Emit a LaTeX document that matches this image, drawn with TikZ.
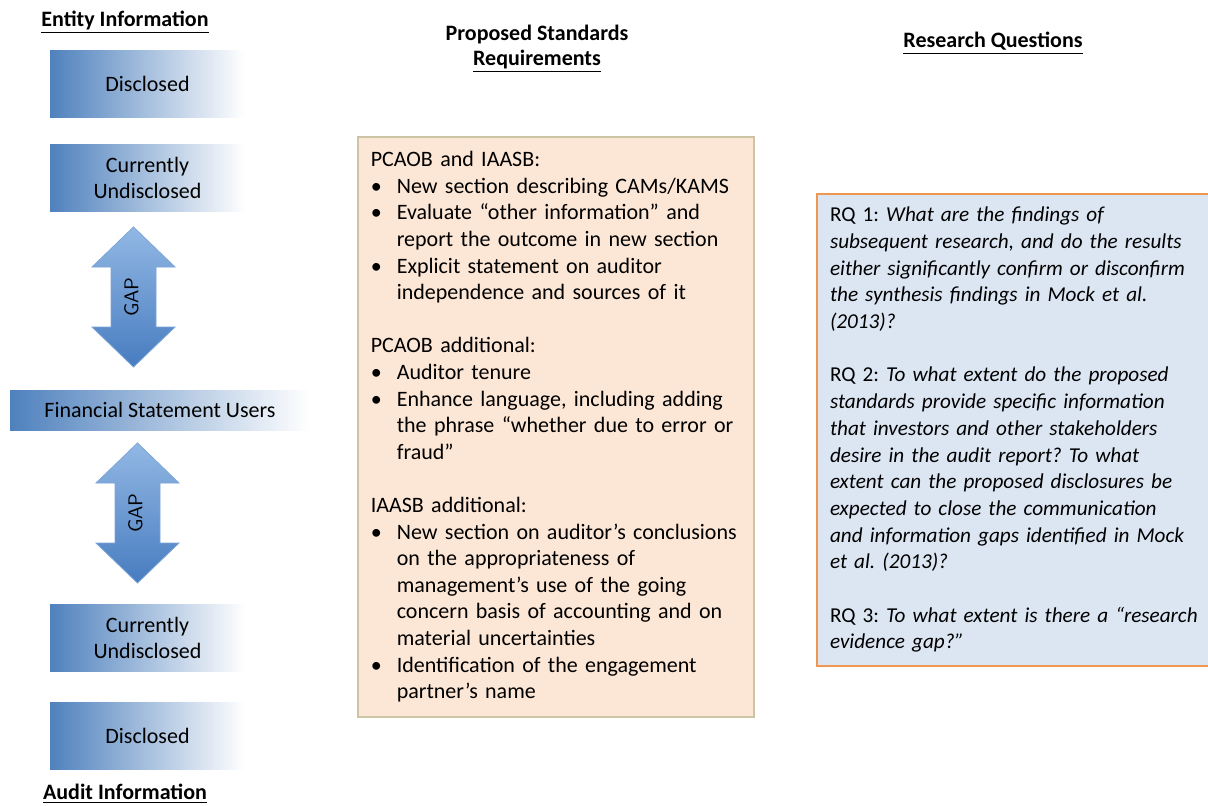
\documentclass[tikz,border=0pt]{standalone}
\usepackage{fontspec}
\setmainfont{Carlito}

\definecolor{barblue}{RGB}{79,129,189}
\definecolor{arrowtop}{RGB}{146,184,228}
\definecolor{arrowbot}{RGB}{72,124,192}
\definecolor{arrowline}{RGB}{125,165,215}
\definecolor{reqfill}{RGB}{252,230,213}
\definecolor{reqline}{RGB}{205,196,165}
\definecolor{rqfill}{RGB}{220,230,242}
\definecolor{rqline}{RGB}{240,150,80}

\newcommand{\reqitem}{\makebox[13pt][l]{\textbullet}}
\newcommand{\reqcont}{\hspace*{13pt}}

\begin{document}
\frenchspacing
\begin{tikzpicture}[x=0.5pt, y=-0.5pt,
    every node/.style={font=\fontsize{11}{13.3}\selectfont},
    heading/.style={font=\fontsize{11}{12.5}\selectfont\bfseries, align=center},
    infobar/.style={left color=barblue, middle color=barblue!40, right color=white,
      minimum width=97.5pt, minimum height=33.5pt, align=center, inner sep=0pt},
    reqbox/.style={draw=reqline, fill=reqfill, line width=0.8pt, anchor=north west,
      text width=185pt, align=left, inner xsep=6.5pt, minimum height=290pt},
    rqbox/.style={draw=rqline, fill=rqfill, line width=1pt, anchor=north west,
      font=\fontsize{10.6}{13.35}\selectfont,
      text width=200pt, align=left, inner xsep=6.5pt, inner ysep=6.5pt}]
  \useasboundingbox (0,0) rectangle (1208,805);

  % left column
  \node[heading] (entity) at (125,22) {\underline{Entity Information}};
  \node[infobar] (discA) at (147.5,83.5) {Disclosed};
  \node[infobar] (undiscA) at (147.5,178) {Currently\\Undisclosed};
  \node[infobar, minimum width=150pt, minimum height=20pt] (users) at (160,410)
    {Financial Statement Users};
  \node[infobar] (undiscB) at (147.5,638) {Currently\\Undisclosed};
  \node[infobar] (discB) at (147.5,736) {Disclosed};
  \node[heading] (audit) at (125,794) {\underline{Audit Information}};

  \foreach \cx/\ty/\nm in {133.5/227/gapA, 137.5/443/gapB} {
    \shade[top color=arrowtop, bottom color=arrowbot, draw=arrowline, line width=0.4pt]
      (\cx,\ty) -- ++(41.5,40) -- ++(-19,0) -- ++(0,60) -- ++(19,0)
      -- ++(-41.5,40) -- ++(-41.5,-40) -- ++(19,0) -- ++(0,-60) -- ++(-19,0) -- cycle;
    \node[rotate=90, font=\fontsize{10}{12}\sffamily] (\nm) at (\cx-2,\ty+70) {GAP};
  }

  % middle column
  \node[heading] (proposed) at (537,49) {Proposed Standards\\\underline{Requirements}};
  \node[reqbox] (reqs) at (357,136) {%
    PCAOB and IAASB:\\
    \reqitem New section describing CAMs/KAMS\\
    \reqitem Evaluate “other information” and\\
    \reqcont report the outcome in new section\\
    \reqitem Explicit statement on auditor\\
    \reqcont independence and sources of it\\[13.3pt]
    PCAOB additional:\\
    \reqitem Auditor tenure\\
    \reqitem Enhance language, including adding\\
    \reqcont the phrase “whether due to error or\\
    \reqcont fraud”\\[13.3pt]
    IAASB additional:\\
    \reqitem New section on auditor’s conclusions\\
    \reqcont on the appropriateness of\\
    \reqcont management’s use of the going\\
    \reqcont concern basis of accounting and on\\
    \reqcont material uncertainties\\
    \reqitem Identification of the engagement\\
    \reqcont partner’s name};

  % right column
  \node[heading] (research) at (993,43) {\underline{Research Questions}};
  \node[rqbox] (rqs) at (816,193) {%
    RQ 1: {\itshape What are the findings of\\
    subsequent research, and do the results\\
    either significantly confirm or disconfirm\\
    the synthesis findings in Mock et al.\\
    (2013)?}\\[13.35pt]
    RQ 2: {\itshape To what extent do the proposed\\
    standards provide specific information\\
    that investors and other stakeholders\\
    desire in the audit report? To what\\
    extent can the proposed disclosures be\\
    expected to close the communication\\
    and information gaps identified in Mock\\
    et al. (2013)?}\\[13.35pt]
    RQ 3: {\itshape To what extent is there a “research\\
    evidence gap?”}};
\end{tikzpicture}
\end{document}
